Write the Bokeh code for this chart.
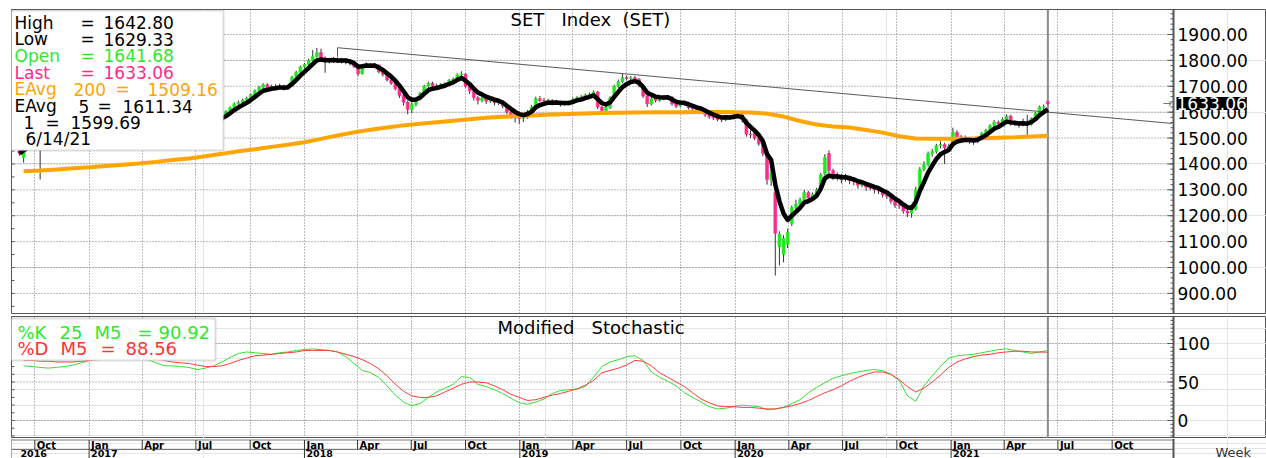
import numpy as np
import pandas as pd
from bokeh.plotting import figure
from bokeh.models import (Range1d, FixedTicker, Span, Label, BoxAnnotation, Grid, ColumnDataSource)
from bokeh.layouts import column
from bokeh.embed import file_html
from bokeh.resources import INLINE
from bokeh.core.properties import value

# ---------------- data (weekly SET index) ----------------
last_date = "2021-06-14"
n_weeks = 250

opens = [
    1500, 1425, 1478, 1482, 1484, 1487, 1468, 1470, 1478, 1475,
    1480, 1488, 1495, 1505, 1512, 1520, 1530, 1537, 1552, 1565,
    1575, 1580, 1578, 1572, 1565, 1560, 1562, 1558, 1566, 1572,
    1575, 1570, 1565, 1566, 1560, 1562, 1556, 1560, 1564, 1570,
    1575, 1574, 1577, 1575, 1578, 1576, 1580, 1576, 1570, 1566,
    1585, 1602, 1618, 1633, 1638, 1646, 1654, 1668, 1683, 1696,
    1706, 1693, 1699, 1697, 1702, 1691, 1700, 1736, 1754, 1775,
    1784, 1800, 1815, 1830, 1810, 1795, 1800, 1803, 1796, 1801,
    1798, 1790, 1776, 1748, 1780, 1786, 1779, 1782, 1755, 1745,
    1724, 1712, 1690, 1664, 1638, 1610, 1630, 1651, 1672, 1700,
    1712, 1702, 1698, 1708, 1710, 1722, 1728, 1744, 1747, 1700,
    1682, 1656, 1645, 1655, 1642, 1644, 1636, 1636, 1624, 1600,
    1588, 1578, 1576, 1580, 1602, 1620, 1652, 1645, 1642, 1646,
    1635, 1640, 1632, 1636, 1634, 1650, 1656, 1656, 1665, 1668,
    1678, 1620, 1606, 1618, 1655, 1700, 1718, 1734, 1730, 1733,
    1727, 1703, 1662, 1632, 1652, 1645, 1652, 1656, 1658, 1632,
    1623, 1630, 1635, 1617, 1613, 1608, 1605, 1590, 1582, 1577,
    1572, 1570, 1581, 1578, 1588, 1590, 1571, 1515, 1520, 1500,
    1478, 1440, 1340, 1290, 1080, 1050, 1090, 1170, 1232, 1245,
    1262, 1290, 1268, 1282, 1300, 1362, 1440, 1375, 1345, 1355,
    1340, 1350, 1336, 1332, 1318, 1322, 1310, 1306, 1300, 1296,
    1280, 1275, 1255, 1240, 1238, 1218, 1210, 1225, 1300, 1380,
    1398, 1440, 1448, 1470, 1475, 1462, 1478, 1522, 1505, 1500,
    1496, 1492, 1487, 1500, 1518, 1530, 1548, 1562, 1556, 1572,
    1585, 1555, 1556, 1550, 1560, 1552, 1575, 1596, 1620, 1641.68,
]
highs = [
    1506, 1482, 1490, 1492, 1495, 1495, 1480, 1485, 1486, 1488,
    1494, 1500, 1510, 1518, 1526, 1535, 1543, 1558, 1570, 1580,
    1588, 1586, 1582, 1576, 1570, 1570, 1566, 1572, 1578, 1580,
    1578, 1574, 1572, 1570, 1568, 1565, 1566, 1570, 1576, 1580,
    1580, 1584, 1582, 1584, 1582, 1586, 1584, 1580, 1575, 1590,
    1608, 1622, 1638, 1645, 1652, 1660, 1672, 1688, 1702, 1712,
    1712, 1706, 1708, 1710, 1706, 1706, 1740, 1760, 1780, 1790,
    1806, 1840, 1848, 1845, 1815, 1810, 1812, 1812, 1810, 1808,
    1802, 1796, 1782, 1786, 1792, 1790, 1790, 1785, 1762, 1750,
    1730, 1716, 1695, 1670, 1645, 1638, 1656, 1678, 1706, 1718,
    1718, 1710, 1712, 1716, 1728, 1734, 1750, 1758, 1750, 1706,
    1688, 1662, 1662, 1660, 1652, 1650, 1645, 1640, 1628, 1605,
    1594, 1590, 1588, 1608, 1628, 1660, 1662, 1655, 1652, 1650,
    1648, 1645, 1642, 1644, 1656, 1662, 1666, 1672, 1676, 1684,
    1682, 1626, 1624, 1662, 1706, 1726, 1748, 1742, 1740, 1740,
    1732, 1708, 1668, 1660, 1658, 1660, 1664, 1666, 1662, 1640,
    1636, 1642, 1640, 1624, 1620, 1615, 1610, 1596, 1590, 1584,
    1580, 1588, 1586, 1594, 1598, 1594, 1575, 1530, 1526, 1504,
    1485, 1445, 1380, 1300, 1140, 1125, 1150, 1240, 1262, 1270,
    1300, 1296, 1290, 1308, 1365, 1438, 1452, 1382, 1368, 1362,
    1362, 1355, 1346, 1338, 1334, 1328, 1322, 1316, 1310, 1302,
    1292, 1282, 1262, 1256, 1245, 1230, 1236, 1312, 1388, 1410,
    1448, 1458, 1478, 1488, 1482, 1478, 1540, 1530, 1512, 1510,
    1502, 1498, 1506, 1524, 1536, 1554, 1570, 1568, 1580, 1592,
    1590, 1566, 1564, 1575, 1590, 1580, 1600, 1626, 1630, 1642.80,
]
lows = [
    1432, 1405, 1470, 1474, 1476, 1340, 1458, 1462, 1466, 1468,
    1474, 1482, 1490, 1498, 1506, 1514, 1524, 1532, 1546, 1558,
    1570, 1570, 1566, 1558, 1552, 1554, 1550, 1554, 1560, 1566,
    1564, 1558, 1560, 1554, 1555, 1548, 1550, 1556, 1560, 1565,
    1568, 1570, 1570, 1571, 1570, 1572, 1570, 1564, 1560, 1562,
    1582, 1598, 1614, 1626, 1632, 1640, 1650, 1664, 1678, 1690,
    1688, 1686, 1690, 1692, 1684, 1686, 1698, 1730, 1750, 1768,
    1778, 1795, 1810, 1800, 1752, 1788, 1790, 1790, 1788, 1785,
    1780, 1770, 1740, 1745, 1772, 1772, 1774, 1750, 1738, 1718,
    1705, 1684, 1655, 1625, 1592, 1596, 1622, 1645, 1666, 1694,
    1696, 1690, 1692, 1700, 1705, 1715, 1724, 1736, 1695, 1670,
    1645, 1630, 1638, 1632, 1635, 1626, 1628, 1615, 1592, 1575,
    1560, 1555, 1562, 1575, 1598, 1615, 1638, 1632, 1630, 1626,
    1628, 1622, 1625, 1626, 1630, 1644, 1648, 1650, 1658, 1662,
    1612, 1598, 1600, 1612, 1650, 1694, 1712, 1722, 1720, 1718,
    1696, 1655, 1620, 1626, 1638, 1640, 1646, 1648, 1625, 1616,
    1618, 1624, 1610, 1606, 1600, 1596, 1582, 1574, 1570, 1565,
    1562, 1565, 1570, 1572, 1580, 1560, 1505, 1500, 1492, 1470,
    1430, 1320, 1315, 969, 1008, 1020, 1075, 1160, 1220, 1232,
    1250, 1252, 1258, 1272, 1295, 1355, 1362, 1338, 1336, 1325,
    1332, 1322, 1318, 1305, 1310, 1296, 1298, 1286, 1284, 1270,
    1265, 1246, 1230, 1226, 1208, 1195, 1192, 1220, 1296, 1372,
    1390, 1428, 1440, 1460, 1400, 1452, 1470, 1480, 1488, 1485,
    1478, 1474, 1480, 1494, 1510, 1524, 1542, 1545, 1550, 1566,
    1548, 1546, 1540, 1545, 1512, 1548, 1570, 1590, 1608, 1629.33,
]
closes = [
    1440, 1478, 1482, 1484, 1487, 1468, 1470, 1478, 1475, 1480,
    1488, 1495, 1505, 1512, 1520, 1530, 1537, 1552, 1565, 1575,
    1580, 1578, 1572, 1565, 1560, 1562, 1558, 1566, 1572, 1575,
    1570, 1565, 1566, 1560, 1562, 1556, 1560, 1564, 1570, 1575,
    1574, 1577, 1575, 1578, 1576, 1580, 1576, 1570, 1566, 1585,
    1602, 1618, 1633, 1638, 1646, 1654, 1668, 1683, 1696, 1706,
    1693, 1699, 1697, 1702, 1691, 1700, 1736, 1754, 1775, 1784,
    1800, 1815, 1830, 1810, 1795, 1800, 1803, 1796, 1801, 1798,
    1790, 1776, 1748, 1780, 1786, 1779, 1782, 1755, 1745, 1724,
    1712, 1690, 1664, 1638, 1610, 1630, 1651, 1672, 1700, 1712,
    1702, 1698, 1708, 1710, 1722, 1728, 1744, 1747, 1700, 1682,
    1656, 1645, 1655, 1642, 1644, 1636, 1636, 1624, 1600, 1588,
    1578, 1576, 1580, 1602, 1620, 1652, 1645, 1642, 1646, 1635,
    1640, 1632, 1636, 1634, 1650, 1656, 1656, 1665, 1668, 1678,
    1620, 1606, 1618, 1655, 1700, 1718, 1734, 1730, 1733, 1727,
    1703, 1662, 1632, 1652, 1645, 1652, 1656, 1658, 1632, 1623,
    1630, 1635, 1617, 1613, 1608, 1605, 1590, 1582, 1577, 1572,
    1570, 1581, 1578, 1588, 1590, 1571, 1515, 1512, 1500, 1478,
    1440, 1340, 1368, 1132, 1128, 1112, 1135, 1232, 1245, 1262,
    1290, 1268, 1282, 1300, 1358, 1425, 1375, 1345, 1355, 1340,
    1350, 1336, 1332, 1318, 1322, 1310, 1306, 1300, 1296, 1280,
    1275, 1255, 1240, 1238, 1218, 1210, 1225, 1300, 1380, 1398,
    1440, 1448, 1470, 1475, 1462, 1470, 1522, 1505, 1500, 1496,
    1492, 1487, 1500, 1518, 1530, 1548, 1562, 1556, 1572, 1585,
    1555, 1556, 1550, 1560, 1552, 1575, 1596, 1620, 1622, 1633.06,
]

# EAvg 200 read every 4th week (weeks 1, 5, 9, ... 249)
ema200_vals = [
    1372, 1375, 1379, 1383, 1387, 1392, 1397, 1402, 1408, 1415,
    1421, 1430, 1439, 1449, 1457, 1466, 1474, 1484, 1497, 1510,
    1522, 1532, 1541, 1549, 1555, 1561, 1567, 1573, 1578, 1582,
    1585, 1588, 1591, 1593, 1595, 1597, 1598, 1599, 1600, 1600,
    1600, 1601, 1601, 1600, 1599, 1594, 1583, 1566, 1552, 1545,
    1541, 1531, 1521, 1507, 1498, 1497, 1497, 1497, 1499, 1501,
    1503, 1506, 1509.16,
]

# Modified stochastic read every 2nd week (weeks 1, 3, 5, ... 249)
stoch_k = [
    71, 70, 69, 68, 69, 70, 72, 75, 78, 81,
    84, 85, 85, 84, 82, 79, 75, 71, 71, 70,
    69, 66, 68, 71, 76, 82, 87, 89, 88, 87,
    86, 88, 89, 91, 92, 93, 92, 91, 89, 83,
    74, 65, 62, 56, 45, 33, 24, 19, 22, 30,
    37, 42, 47, 57, 56, 47, 44, 40, 35, 29,
    23, 21, 24, 28, 35, 39, 40, 41, 44, 56,
    70, 76, 79, 83, 84, 78, 63, 56, 51, 45,
    36, 30, 24, 18, 15, 16, 18, 20, 19, 18,
    14, 15, 17, 22, 27, 36, 43, 49, 55, 58,
    61, 63, 65, 66, 65, 60, 52, 32, 25, 45,
    58, 70, 81, 84, 85, 86, 88, 90, 92, 93,
    91, 89, 87, 89, 90.92,
]
stoch_d = [
    78, 78, 77, 77, 76, 76, 76, 77, 78, 79,
    81, 82, 83, 83, 82, 81, 80, 78, 76, 75,
    74, 72, 70, 70, 71, 74, 78, 81, 84, 85,
    86, 87, 88, 89, 91, 91, 91, 91, 89, 86,
    83, 79, 74, 67, 58, 47, 38, 32, 30, 30,
    32, 37, 42, 47, 50, 50, 49, 45, 40, 34,
    30, 26, 27, 30, 33, 35, 38, 41, 46, 52,
    62, 65, 68, 72, 78, 77, 71, 62, 56, 50,
    44, 36, 28, 23, 19, 18, 18, 17, 17, 16,
    15, 15, 17, 19, 22, 26, 31, 36, 40, 45,
    51, 56, 60, 63, 63, 60, 53, 44, 37, 42,
    50, 59, 69, 76, 80, 83, 85, 86, 88, 89,
    90, 90, 89, 89, 88.56,
]

trend_dates = ["2018-02-26", "2022-01-10"]
trend_vals = [1849.0, 1556.5]
trend_tick_vals = [1849.0, 1815.0]

price_ticks = [900, 1000, 1100, 1200, 1300, 1400, 1500, 1600, 1700, 1800, 1900]
stoch_ticks = [0, 50, 100]
year_labels = ["2016", "2017", "2018", "2019", "2020", "2021"]

main_legend = [
    [("High", 14, "black"), ("=", 80, "black"), ("1642.80", 103, "black")],
    [("Low", 14, "black"), ("=", 80, "black"), ("1629.33", 103, "black")],
    [("Open", 14, "#2ee82e"), ("=", 80, "#2ee82e"), ("1641.68", 103, "#2ee82e")],
    [("Last", 14, "#ff2a8a"), ("=", 80, "#ff2a8a"), ("1633.06", 103, "#ff2a8a")],
    [("EAvg", 14, "#ffa500"), ("200", 73, "#ffa500"), ("=", 115, "#ffa500"), ("1509.16", 147, "#ffa500")],
    [("EAvg", 14, "black"), ("5", 78, "black"), ("=", 97, "black"), ("1611.34", 122, "black")],
    [("1", 23, "black"), ("=", 45, "black"), ("1599.69", 70, "black")],
    [("6/14/21", 25, "black")],
]
stoch_legend = [
    [("%K", 17, "#2ee82e"), ("25", 59, "#2ee82e"), ("M5", 94, "#2ee82e"), ("=", 137, "#2ee82e"), ("90.92", 158, "#2ee82e")],
    [("%D", 17, "#ff3333"), ("M5", 60, "#ff3333"), ("=", 100, "#ff3333"), ("88.56", 125, "#ff3333")],
]

# ---------------- layout helpers (page pixels -> data) ----------------
def ms(d):
    return pd.Timestamp(d).value / 1e6

DAY = 86400000.0
dates = pd.date_range(end=last_date, periods=n_weeks, freq="7D")
dates_ms = dates.asi8 / 1e6

W = 1266
FRAME_L = 11           # frame spans page x 11 .. 1266
AXIS_X = 1173          # price / stochastic scale line
PX_PER_WEEK = 4.13
X0 = dates_ms[0] - (19 - FRAME_L) / PX_PER_WEEK * 7 * DAY
def mx(px):
    return X0 + (px - FRAME_L) / PX_PER_WEEK * 7 * DAY
xr = Range1d(X0, mx(W))
AX = mx(AXIS_X)

# main panel: frame page y 9..313, 1900 at y=34
M_TOP, M_H = 9, 304
PPU = 0.2589
Y1m = 1900 + (34 - M_TOP) / PPU
Y0m = Y1m - M_H / PPU
def my(py):
    return Y1m - (py - M_TOP) / PPU

# stochastic panel: frame page y 316..438, 100 at 343, 0 at 420
S_TOP, S_H = 316, 122
SPU = 0.77
S1 = 100 + (343 - S_TOP) / SPU
S0 = S1 - S_H / SPU
def sy(py):
    return S1 - (py - S_TOP) / SPU

FONT = "DejaVu Sans"
GRID_COLOR = "#7a7a7a"
AXIS_COLOR = "#555555"

def make_fig(h, top, bottom, yr):
    p = figure(width=W, height=h, x_range=xr, y_range=yr, toolbar_location=None,
               output_backend="svg", x_axis_location=None, y_axis_location=None,
               min_border_left=FRAME_L, min_border_right=0,
               min_border_top=top, min_border_bottom=bottom)
    p.outline_line_color = AXIS_COLOR
    p.outline_line_width = 1
    p.background_fill_color = "white"
    p.border_fill_color = "white"
    return p

def lab(fig, x, y, text, color="black", size="17px", align="left", style="normal", bg=None):
    kw = {}
    if bg is not None:
        kw = dict(background_fill_color=bg, background_fill_alpha=1.0)
    fig.add_layout(Label(x=x, y=y, text=text, text_color=color, text_font=FONT,
                         text_font_size=size, text_align=align, text_baseline="middle",
                         text_font_style=style, **kw))

def scale(fig, ticks, minor, labels, left_minor):
    """Draw the right-hand scale (inside the frame) and left ruler ticks."""
    n = len(ticks)
    fig.segment(x0=[X0] * n, y0=ticks, x1=[AX] * n, y1=ticks,
                line_color=GRID_COLOR, line_dash="1 2", line_width=1)
    fig.segment(x0=[mx(AXIS_X - 6)] * n, y0=ticks, x1=[AX] * n, y1=ticks,
                line_color=AXIS_COLOR, line_width=1)
    m = len(minor)
    fig.segment(x0=[mx(AXIS_X - 3)] * m, y0=minor, x1=[AX] * m, y1=minor,
                line_color=AXIS_COLOR, line_width=1)
    k = len(left_minor)
    fig.segment(x0=[X0] * k, y0=left_minor, x1=[mx(FRAME_L + 3)] * k, y1=left_minor,
                line_color=AXIS_COLOR, line_width=1)
    fig.add_layout(Span(location=AX, dimension="height", line_color=AXIS_COLOR, line_width=2))
    fig.text(x=[mx(AXIS_X + 4)] * n, y=ticks, text=labels, text_font=value(FONT),
             text_font_size="17px", text_baseline="middle", text_align="left", text_color="black")

qdates = pd.date_range("2016-10-01", "2021-10-01", freq="QS")
q_ms = [ms(d) for d in qdates]
q_labels = [d.strftime("%b") for d in qdates]
jan_ms = [ms(d) for d in qdates if d.month == 1]

# ---------------- main price panel ----------------
p1 = make_fig(314, M_TOP, 1, Range1d(Y0m, Y1m))
p1.add_layout(Grid(dimension=0, ticker=FixedTicker(ticks=q_ms), grid_line_color=GRID_COLOR,
                   grid_line_dash="1 2", grid_line_width=1))
p1.add_layout(Span(location=ms(last_date), dimension="height", line_color="#8c8c8c",
                   line_width=2, level="underlay"))
scale(p1, price_ticks, list(range(820, 2001, 20)), [f"{t:.2f}" for t in price_ticks],
      list(range(850, 2001, 50)))

o = np.array(opens, float); h = np.array(highs, float)
l = np.array(lows, float); c = np.array(closes, float)
colors = np.where(c >= o, "#1ee81e", "#ff2a8a")
src = ColumnDataSource(dict(x=dates_ms, h=h, l=l, top=np.maximum(o, c), bottom=np.minimum(o, c), color=colors))
p1.segment(x0="x", y0="h", x1="x", y1="l", source=src, line_color="#333333", line_width=1)
p1.vbar(x="x", width=0.72 * 7 * DAY, top="top", bottom="bottom", source=src,
        fill_color="color", line_color="color", line_width=0.5)

t_ms = [ms(d) for d in trend_dates]
p1.line(t_ms, trend_vals, line_color="#5a5a5a", line_width=1)
p1.segment(x0=[t_ms[0]], y0=[trend_tick_vals[0]], x1=[t_ms[0]], y1=[trend_tick_vals[1]],
           line_color="#5a5a5a", line_width=1)

p1.line(dates_ms[1::4], ema200_vals, line_color="#ffa500", line_width=4)
ema5 = pd.Series(c).ewm(span=5, adjust=False).mean().to_numpy()
p1.line(dates_ms, ema5, line_color="black", line_width=4.5, line_join="round")

# title
for word, px in [("SET", 510), ("Index", 561), ("(SET)", 622)]:
    lab(p1, mx(px), my(18.5), word, size="18px")

# legend box
p1.add_layout(BoxAnnotation(left=mx(8), right=mx(223), top=my(10), bottom=my(150),
                            fill_color="white", fill_alpha=1.0, line_color="#8a8a8a", line_width=2))
row_y = [22, 38.7, 55.4, 72.1, 88.8, 105.5, 122.2, 138.9]
for yy, row in zip(row_y, main_legend):
    for txt, px, col in row:
        lab(p1, mx(px), my(yy), txt, color=col, size="17px")

# last price marker
lab(p1, mx(1162), float(closes[-1]), "\u2192", color="#777777", size="11px")
lab(p1, mx(1176), float(closes[-1]), f"{closes[-1]:.2f}", color="white", size="17px", bg="black")

# ---------------- stochastic panel ----------------
p2 = make_fig(124, 2, 0, Range1d(S0, S1))
p2.add_layout(Grid(dimension=0, ticker=FixedTicker(ticks=q_ms), grid_line_color=GRID_COLOR,
                   grid_line_dash="1 2", grid_line_width=1))
p2.add_layout(Span(location=ms(last_date), dimension="height", line_color="#8c8c8c",
                   line_width=2, level="underlay"))
scale(p2, stoch_ticks, list(range(-20, 140, 5)), [str(t) for t in stoch_ticks],
      list(range(-20, 140, 10)))
p2.line(dates_ms[1::2], stoch_k, line_color="#33e033", line_width=1)
p2.line(dates_ms[1::2], stoch_d, line_color="#ff3b3b", line_width=1)

lab(p2, mx(497), sy(327), "Modified", size="18px")
lab(p2, mx(591), sy(327), "Stochastic", size="18px")

p2.add_layout(BoxAnnotation(left=mx(10), right=mx(215), top=sy(318), bottom=sy(360),
                            fill_color="white", fill_alpha=1.0, line_color="#8a8a8a", line_width=2))
for yy, row in zip([332, 348], stoch_legend):
    for txt, px, col in row:
        lab(p2, mx(px), sy(yy), txt, color=col, size="18px")

# ---------------- date strip (page y 438..458) ----------------
p3 = make_fig(20, 0, 0, Range1d(20, 0))
p3.outline_line_color = None
p3.segment(x0=[X0, X0], y0=[1.5, 11], x1=[AX, AX], y1=[1.5, 11], line_color="#777777", line_width=1)
p3.segment(x0=[X0], y0=[0], x1=[X0], y1=[20], line_color=AXIS_COLOR, line_width=1)
p3.add_layout(Span(location=AX, dimension="height", line_color=AXIS_COLOR, line_width=2))
p3.segment(x0=q_ms, y0=[1.5] * len(q_ms), x1=q_ms, y1=[11] * len(q_ms), line_color="#333333", line_width=1)
p3.segment(x0=jan_ms, y0=[11] * len(jan_ms), x1=jan_ms, y1=[20] * len(jan_ms), line_color="#333333", line_width=1)
p3.text(x=q_ms, y=[6.6] * len(q_ms), text=q_labels, x_offset=2,
        text_font=value(FONT), text_font_style="bold", text_font_size="10px",
        text_baseline="middle", text_color="black")
year_x = [mx(18)] + jan_ms
p3.text(x=year_x, y=[14.8] * len(year_x), text=year_labels, x_offset=2,
        text_font=value(FONT), text_font_style="bold", text_font_size="9.5px",
        text_baseline="middle", text_color="black")
lab(p3, mx(1215), 13.5, "Week", color="#333344", size="13px")

layout = column(p1, p2, p3, spacing=0)
with open("out.html", "w") as f:
    f.write(file_html(layout, INLINE))
